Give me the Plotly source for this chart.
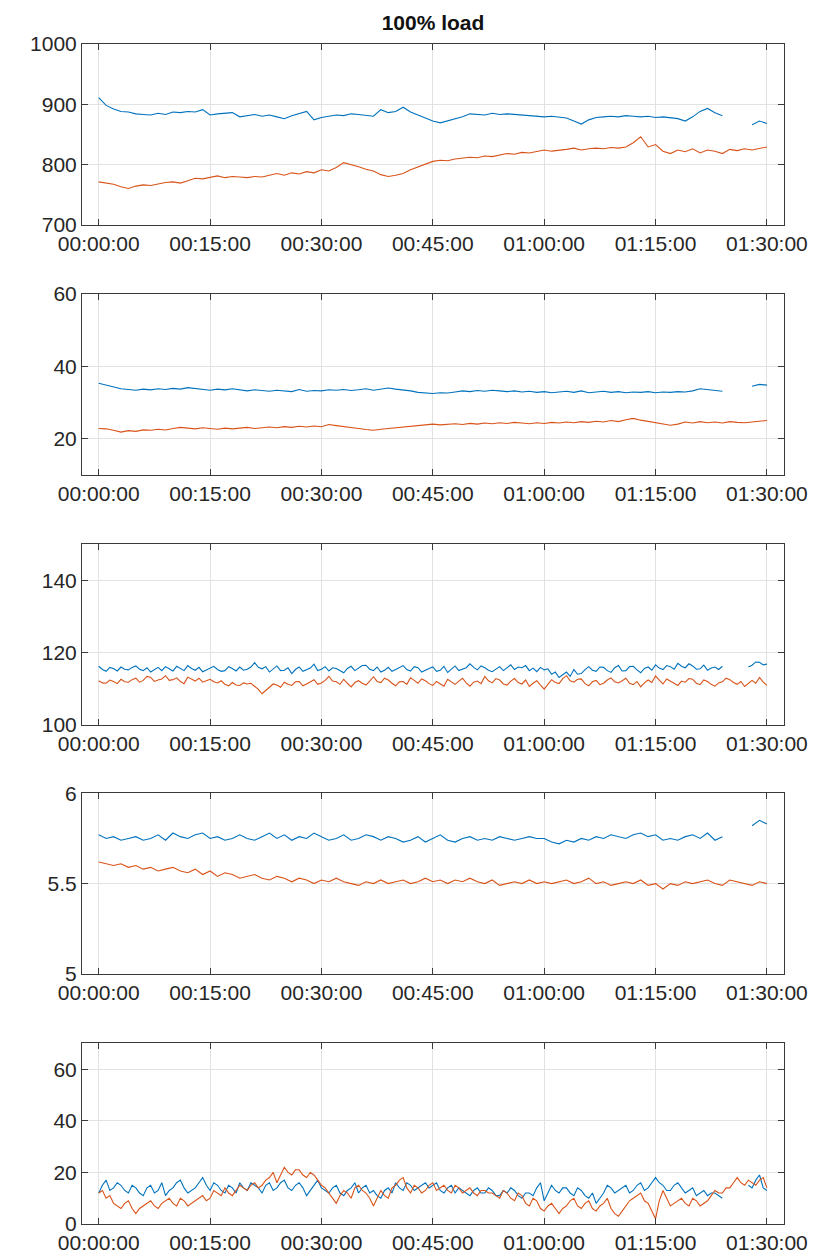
import pandas as pd
import plotly.graph_objects as go

# ---------------- data ----------------
# panels 1, 2, 4: one sample per minute (00:00 .. 01:30)
# panels 3, 5: one sample per 30 s (00:00 .. 01:30)
times_1m = pd.date_range("2000-01-01 00:00:00", periods=91, freq="1min")
times_30s = pd.date_range("2000-01-01 00:00:00", periods=181, freq="30s")
N = None

p1_blue = [911, 898, 892, 888, 887, 884, 883, 882, 885, 883,
           887, 886, 888, 887, 891, 882, 884, 885, 886, 879,
           881, 883, 880, 882, 879, 876, 881, 884, 888, 874,
           878, 880, 882, 881, 884, 883, 882, 880, 891, 886,
           888, 895, 887, 882, 876, 872, 869, 872, 875, 879,
           884, 883, 882, 885, 883, 884, 883, 882, 881, 880,
           879, 880, 878, 877, 872, 867, 874, 878, 879, 880,
           879, 881, 880, 879, 880, 878, 879, 877, 876, 872,
           879, 888, 893, 886, 881, N, N, N, 866, 872,
           868]
p1_orange = [771, 769, 767, 763, 760, 764, 766, 765, 768, 770,
             771, 769, 773, 777, 776, 779, 781, 778, 780, 779,
             778, 780, 779, 782, 785, 782, 786, 784, 788, 786,
             791, 789, 795, 803, 800, 796, 792, 789, 783, 780,
             782, 785, 791, 796, 801, 805, 807, 806, 809, 810,
             812, 811, 814, 813, 816, 818, 817, 820, 819, 822,
             824, 822, 823, 825, 827, 824, 826, 827, 826, 828,
             827, 829, 836, 846, 829, 833, 822, 818, 824, 821,
             826, 819, 824, 822, 818, 825, 823, 826, 824, 827,
             829]

p2_blue = [35.3, 34.8, 34.2, 33.8, 33.6, 33.4, 33.7, 33.5, 33.8, 33.6,
           33.9, 33.7, 34.1, 33.8, 33.6, 33.4, 33.7, 33.5, 33.8, 33.4,
           33.2, 33.5, 33.3, 33.1, 33.4, 33.2, 33.0, 33.6, 33.1, 33.3,
           33.2, 33.5, 33.4, 33.6, 33.3, 33.5, 33.8, 33.4, 33.6, 34.0,
           33.7, 33.5, 33.2, 32.8, 32.6, 32.5, 32.7, 32.6, 32.9, 33.2,
           33.0, 33.3, 33.1, 33.4, 33.2, 33.0, 33.2, 32.9, 33.1, 32.8,
           33.0, 32.7, 32.9, 33.1, 32.8, 33.2, 32.7, 32.9, 33.1, 32.8,
           33.0, 32.7, 32.9, 32.8, 33.0, 32.7, 32.9, 32.8, 33.0, 32.9,
           33.2, 33.8, 33.5, 33.3, 33.1, N, N, N, 34.5, 35.0,
           34.8]
p2_orange = [22.8, 22.7, 22.3, 21.8, 22.2, 22.0, 22.4, 22.3, 22.6, 22.4,
             22.8, 23.1, 22.9, 22.7, 23.0, 22.8, 22.6, 22.9, 22.7, 22.9,
             23.1, 22.8, 23.0, 23.2, 23.0, 23.3, 23.1, 23.4, 23.2, 23.5,
             23.3, 23.9, 23.6, 23.4, 23.0, 22.8, 22.5, 22.3, 22.6, 22.8,
             22.9, 23.2, 23.5, 23.6, 23.8, 24.0, 23.8, 23.9, 24.1, 23.9,
             24.2, 24.0, 24.3, 24.1, 24.4, 24.2, 24.5, 24.3, 24.1, 24.4,
             24.2, 24.5, 24.3, 24.6, 24.4, 24.7, 24.5, 24.8, 24.6, 25.0,
             24.7, 25.2, 25.6, 25.1, 24.8, 24.3, 24.0, 23.7, 24.0, 24.6,
             24.3, 24.7, 24.4, 24.6, 24.3, 24.7, 24.5, 24.4, 24.6, 24.8,
             25.0]

p3_blue = [116.2, 115.3, 114.8, 115.9, 115.6, 114.9, 116.0, 115.4, 115.2, 115.9,
           116.3, 115.4, 115.0, 115.8, 114.6, 115.2, 115.9, 115.0, 116.1, 115.5,
           114.9, 116.2, 115.7, 115.0, 116.4, 115.6, 115.1, 115.9, 114.7, 115.2,
           115.8, 116.2, 115.3, 114.8, 115.0, 116.1, 115.6, 114.9, 116.0, 115.1,
           115.4, 116.0, 117.2, 115.9, 115.5, 116.1, 114.6, 115.5, 116.3, 115.0,
           115.1, 115.8, 114.2, 115.3, 116.0, 114.8, 115.3, 115.7, 116.8, 115.0,
           115.4, 116.1, 114.9, 115.8, 115.6, 114.9, 114.4, 115.6, 116.2, 115.0,
           115.7, 116.4, 116.5, 115.4, 115.0, 116.0, 114.6, 115.1, 115.9, 114.8,
           115.3, 115.9, 116.4, 115.3, 114.9, 116.1, 115.8, 114.6, 115.2, 115.6,
           116.0, 114.8, 115.1, 116.2, 114.5, 115.4, 116.3, 115.0, 115.4, 115.8,
           116.9, 115.9, 115.2, 116.3, 115.8, 115.1, 114.7, 115.5, 116.1, 115.0,
           115.9, 116.6, 115.3, 116.0, 115.8, 116.4, 115.0, 115.7, 114.7, 115.9,
           115.2, 115.5, 114.0, 114.6, 113.1, 113.8, 114.6, 113.4, 115.3, 114.0,
           114.2, 115.3, 116.1, 115.1, 114.8, 116.0, 115.9, 115.0, 114.5, 115.8,
           116.4, 114.9, 115.0, 116.1, 116.2, 115.2, 114.4, 115.6, 116.0, 115.1,
           116.6, 115.7, 115.3, 116.4, 116.1, 115.4, 117.0, 116.2, 115.8, 116.9,
           116.3, 115.4, 115.5, 116.5, 115.1, 115.7, 116.0, 115.3, 116.2, N,
           N, N, N, N, N, 116.0, 116.5, 117.4, 117.3, 116.6,
           116.8]
p3_orange = [112.2, 111.6, 111.5, 112.4, 112.0, 111.4, 112.6, 111.9, 111.8, 112.5,
             112.9, 111.8, 112.3, 113.4, 113.1, 112.0, 112.4, 112.7, 113.6, 112.3,
             112.5, 113.0, 112.0, 111.4, 113.2, 112.6, 112.1, 112.9, 111.8, 112.2,
             112.6, 111.9, 111.6, 112.2, 111.2, 110.8, 111.7, 111.0, 110.9, 111.6,
             111.3, 111.5, 110.7, 109.8, 108.6, 109.5, 110.2, 111.3, 111.0, 110.4,
             111.8, 111.2, 110.9, 111.9, 112.0, 110.8, 111.3, 111.9, 112.5, 111.2,
             111.6, 112.3, 113.4, 112.1, 111.9, 111.2, 112.6, 111.5, 110.5, 111.7,
             112.2, 111.5, 111.0, 112.1, 113.3, 112.0, 111.7, 112.9, 112.4, 111.5,
             110.8, 111.9, 112.0, 111.2, 113.0, 112.3, 111.5, 112.7, 112.2, 111.4,
             110.9, 112.0, 111.4, 110.7, 112.6, 111.8, 111.2, 112.1, 112.9, 111.6,
             110.7, 111.8, 112.1, 111.4, 113.4, 112.2, 111.6, 112.8, 112.4, 111.3,
             111.0, 112.1, 112.8, 111.7, 111.3, 112.4, 110.6, 111.5, 112.2, 111.0,
             109.9, 111.2, 112.5, 111.7, 111.4, 112.8, 113.6, 112.2, 111.8, 112.6,
             112.7, 111.4, 110.8, 111.9, 112.3, 111.1, 111.5, 112.4, 113.0, 111.9,
             111.6, 112.2, 112.9, 111.5, 111.1, 112.0, 110.5, 111.6, 112.4, 111.7,
             113.5, 112.4, 111.3, 112.7, 112.2, 111.5, 110.9, 112.1, 111.8, 112.8,
             112.6, 111.5, 111.1, 112.4, 112.0, 111.2, 110.7, 111.6, 111.9, 112.9,
             112.5, 111.7, 111.2, 112.0, 110.6, 111.4, 112.3, 111.5, 113.1, 111.8,
             110.9]

p4_blue = [5.77, 5.75, 5.76, 5.74, 5.75, 5.76, 5.74, 5.75, 5.77, 5.74,
           5.78, 5.76, 5.75, 5.77, 5.78, 5.75, 5.76, 5.74, 5.75, 5.77,
           5.75, 5.74, 5.76, 5.78, 5.75, 5.77, 5.74, 5.76, 5.75, 5.78,
           5.76, 5.74, 5.75, 5.77, 5.74, 5.75, 5.77, 5.76, 5.74, 5.76,
           5.75, 5.73, 5.74, 5.76, 5.73, 5.75, 5.77, 5.74, 5.73, 5.75,
           5.76, 5.74, 5.75, 5.74, 5.76, 5.75, 5.74, 5.75, 5.76, 5.75,
           5.75, 5.73, 5.72, 5.74, 5.73, 5.75, 5.74, 5.76, 5.75, 5.77,
           5.76, 5.75, 5.77, 5.78, 5.76, 5.77, 5.74, 5.75, 5.74, 5.76,
           5.77, 5.75, 5.78, 5.74, 5.76, N, N, N, 5.82, 5.85,
           5.83]
p4_orange = [5.62, 5.61, 5.60, 5.61, 5.59, 5.60, 5.58, 5.59, 5.57, 5.58,
             5.59, 5.57, 5.56, 5.58, 5.55, 5.57, 5.54, 5.56, 5.55, 5.53,
             5.54, 5.55, 5.53, 5.52, 5.54, 5.53, 5.51, 5.53, 5.52, 5.50,
             5.52, 5.51, 5.53, 5.51, 5.50, 5.49, 5.51, 5.50, 5.52, 5.50,
             5.51, 5.52, 5.50, 5.51, 5.53, 5.51, 5.52, 5.50, 5.52, 5.51,
             5.53, 5.51, 5.50, 5.52, 5.49, 5.50, 5.51, 5.50, 5.52, 5.50,
             5.51, 5.50, 5.51, 5.52, 5.50, 5.51, 5.53, 5.50, 5.51, 5.49,
             5.50, 5.51, 5.50, 5.52, 5.49, 5.50, 5.47, 5.50, 5.49, 5.51,
             5.50, 5.51, 5.52, 5.50, 5.49, 5.52, 5.51, 5.50, 5.49, 5.51,
             5.50]

p5_blue = [12, 15, 17, 13, 14, 16, 15, 13, 12, 15,
           14, 12, 11, 14, 15, 12, 13, 16, 11, 13,
           14, 16, 17, 14, 12, 13, 14, 16, 18, 15,
           13, 16, 15, 13, 12, 15, 14, 12, 16, 14,
           13, 16, 15, 14, 12, 15, 16, 13, 14, 16,
           17, 14, 13, 15, 16, 14, 11, 13, 15, 17,
           14, 13, 12, 14, 15, 12, 11, 13, 14, 16,
           12, 14, 15, 12, 13, 11, 10, 13, 14, 12,
           16, 14, 13, 16, 15, 13, 14, 15, 16, 14,
           15, 16, 13, 12, 14, 15, 12, 14, 13, 12,
           11, 13, 14, 12, 12, 14, 13, 11, 11, 13,
           12, 14, 13, 11, 10, 12, 12, 11, 14, 16,
           9, 12, 15, 13, 12, 14, 14, 12, 11, 14,
           13, 11, 10, 12, 8, 10, 12, 15, 14, 12,
           13, 14, 15, 12, 13, 15, 16, 13, 14, 16,
           18, 16, 15, 13, 13, 15, 16, 14, 12, 13,
           14, 11, 12, 13, 11, 12, 12, 11, 10, N,
           N, N, N, N, N, 15, 14, 17, 19, 14,
           13]
p5_orange = [12, 13, 10, 11, 8, 7, 6, 8, 9, 6,
             4, 6, 7, 8, 9, 7, 6, 8, 9, 10,
             8, 7, 10, 9, 7, 8, 9, 10, 11, 9,
             10, 13, 12, 11, 14, 12, 11, 13, 15, 14,
             13, 15, 16, 14, 15, 17, 18, 20, 16, 19,
             22, 20, 19, 21, 21, 19, 18, 20, 19, 17,
             15, 14, 12, 10, 8, 11, 13, 12, 10, 14,
             15, 13, 12, 10, 7, 10, 13, 11, 10, 14,
             15, 17, 18, 14, 12, 15, 14, 12, 13, 15,
             16, 13, 14, 15, 13, 12, 15, 14, 12, 13,
             14, 12, 11, 13, 13, 12, 12, 11, 10, 13,
             12, 10, 9, 12, 11, 8, 7, 10, 9, 6,
             5, 7, 8, 6, 4, 6, 7, 9, 10, 7,
             6, 8, 9, 6, 5, 7, 8, 10, 6, 4,
             3, 5, 7, 9, 10, 11, 12, 9, 8, 5,
             2, 9, 13, 10, 7, 8, 9, 10, 8, 7,
             10, 9, 7, 8, 9, 11, 13, 12, 12, 14,
             14, 16, 18, 16, 15, 17, 16, 15, 17, 18,
             14]

panels = [
    (times_1m, p1_blue, p1_orange, [700, 1000], [700, 800, 900, 1000], ["700", "800", "900", "1000"]),
    (times_1m, p2_blue, p2_orange, [10, 60], [20, 40, 60], ["20", "40", "60"]),
    (times_30s, p3_blue, p3_orange, [100, 150], [100, 120, 140], ["100", "120", "140"]),
    (times_1m, p4_blue, p4_orange, [5, 6], [5, 5.5, 6], ["5", "5.5", "6"]),
    (times_30s, p5_blue, p5_orange, [0, 70], [0, 20, 40, 60], ["0", "20", "40", "60"]),
]
title_text = "100% load"

# ---------------- styling / layout ----------------
W, H = 817, 1258
ML, MR, MT, MB = 74, 41, 36, 33
panel_tops = [36, 288, 540, 791, 1043]
panel_h = 182
plot_h = H - MT - MB

BLUE = "#0072BD"
ORANGE = "#D95319"
TXT = "#262626"
AX = "#3a3a3a"
GRID = "#e2e2e2"
FONT = "Liberation Sans, Arial, Helvetica, sans-serif"
FS = 21

fig = go.Figure()
layout = dict(
    width=W, height=H,
    margin=dict(l=ML, r=MR, t=MT, b=MB),
    paper_bgcolor="white", plot_bgcolor="white",
    showlegend=False,
    font=dict(family=FONT, size=FS, color=TXT),
    title=dict(text="<b>" + title_text + "</b>", x=(ML + (W - MR)) / 2 / W, xanchor="center",
               y=1 - 15 / H, yanchor="middle", yref="container",
               font=dict(family=FONT, size=21, color="#111111")),
)

for i, (tt_x, yb, yo, yr, tv, tt) in enumerate(panels):
    k = "" if i == 0 else str(i + 1)
    top = panel_tops[i]
    bot = top + panel_h
    d0 = 1 - (bot - MT) / plot_h
    d1 = 1 - (top - MT) / plot_h
    fig.add_trace(go.Scatter(x=tt_x, y=yb, mode="lines", line=dict(color=BLUE, width=1.1),
                             connectgaps=False, xaxis="x" + k, yaxis="y" + k))
    fig.add_trace(go.Scatter(x=tt_x, y=yo, mode="lines", line=dict(color=ORANGE, width=1.1),
                             connectgaps=False, xaxis="x" + k, yaxis="y" + k))
    layout["xaxis" + k] = dict(
        domain=[0, 1], anchor="y" + k,
        type="date", range=["1999-12-31 23:57:45", "2000-01-01 01:32:18"],
        tick0="2000-01-01 00:00:00", dtick=15 * 60 * 1000, tickformat="%H:%M:%S",
        ticks="inside", ticklen=6, tickcolor=AX, tickwidth=1,
        showline=True, linecolor=AX, linewidth=1, mirror="ticks",
        showgrid=True, gridcolor=GRID, gridwidth=1, zeroline=False,
        tickfont=dict(family=FONT, size=FS, color=TXT),
    )
    layout["yaxis" + k] = dict(
        domain=[d0, d1], anchor="x" + k,
        range=yr, tickvals=tv, ticktext=tt,
        ticks="inside", ticklen=6, tickcolor=AX, tickwidth=1,
        showline=True, linecolor=AX, linewidth=1, mirror="ticks",
        showgrid=True, gridcolor=GRID, gridwidth=1, zeroline=False,
        tickfont=dict(family=FONT, size=FS, color=TXT),
    )

fig.update_layout(**layout)
fig.write_html("out.html")
